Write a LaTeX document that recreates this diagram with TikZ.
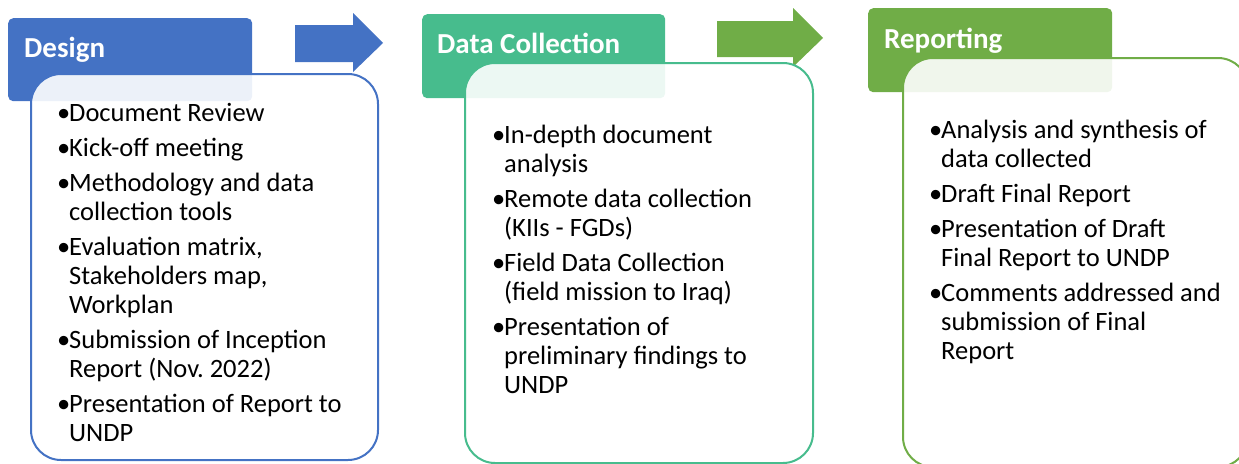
\documentclass[tikz,border=0pt]{standalone}
\usepackage{fontspec}
\setmainfont{Carlito}
\frenchspacing
\definecolor{cblue}{HTML}{4472C4}
\definecolor{cteal}{HTML}{47BC8D}
\definecolor{cgreen}{HTML}{70AD47}
\newcommand{\bitem}[1]{\hbox{\makebox[12pt][l]{•}#1}}
\newcommand{\citem}[1]{\hbox{\hspace*{12pt}#1}}
\newcommand{\gap}{\vskip6pt}
\begin{document}
\begin{tikzpicture}[x=1pt,y=-1pt,
  header/.style={rectangle, rounded corners=5pt, anchor=north west, inner sep=0pt, draw=none},
  body/.style={rectangle, rounded corners=30pt, anchor=north west, inner sep=0pt, line width=2pt, fill=white, fill opacity=0.9},
  title/.style={anchor=base west, inner sep=0pt, text=white, font=\fontsize{29}{34}\selectfont\bfseries},
  items/.style={anchor=base west, inner sep=0pt, font=\fontsize{26.5}{29}\selectfont},
  blockarrow/.style={draw=none}]
\useasboundingbox (0,0) rectangle (1239,463);
\clip (0,0) rectangle (1239,463);
% headers
\node[header, fill=cblue, minimum width=244pt, minimum height=83pt] (h1) at (8,18) {};
\node[header, fill=cteal, minimum width=243pt, minimum height=84pt] (h2) at (422,14) {};
\node[header, fill=cgreen, minimum width=244pt, minimum height=84pt] (h3) at (868,8) {};
% block arrows
\fill[cblue] (295,25) -- (353,25) -- (353,13) -- (383,43) -- (353,72) -- (353,62) -- (295,62) -- cycle;
\fill[cgreen] (717,21) -- (793,21) -- (793,8) -- (823,38) -- (793,67) -- (793,57) -- (717,57) -- cycle;
% bodies
\node[body, draw=cblue, minimum width=347pt, minimum height=386pt] (b1) at (30,73) {};
\node[body, draw=cteal, minimum width=348pt, minimum height=400pt] (b2) at (464,62) {};
\node[body, draw=cgreen, minimum width=345pt, minimum height=409pt] (b3) at (902,57) {};
% titles
\node[title] (t1) at (24,57) {Design};
\node[title] (t2) at (437,53) {Data Collection};
\node[title] (t3) at (884,48) {Reporting};
% items
\node[items] (i1) at (57,121) {\vtop{%
  \bitem{Document Review}\gap
  \bitem{Kick-off meeting}\gap
  \bitem{Methodology and data}
  \citem{collection tools}\gap
  \bitem{Evaluation matrix,}
  \citem{Stakeholders map,}
  \citem{Workplan}\gap
  \bitem{Submission of Inception}
  \citem{Report (Nov. 2022)}\gap
  \bitem{Presentation of Report to}
  \citem{UNDP}}};
\node[items] (i2) at (492,143) {\vtop{%
  \bitem{In-depth document}
  \citem{analysis}\gap
  \bitem{Remote data collection}
  \citem{(KIIs - FGDs)}\gap
  \bitem{Field Data Collection}
  \citem{(field mission to Iraq)}\gap
  \bitem{Presentation of}
  \citem{preliminary findings to}
  \citem{UNDP}}};
\node[items] (i3) at (929,138) {\vtop{%
  \bitem{Analysis and synthesis of}
  \citem{data collected}\gap
  \bitem{Draft Final Report}\gap
  \bitem{Presentation of Draft}
  \citem{Final Report to UNDP}\gap
  \bitem{Comments addressed and}
  \citem{submission of Final}
  \citem{Report}}};
\end{tikzpicture}
\end{document}
